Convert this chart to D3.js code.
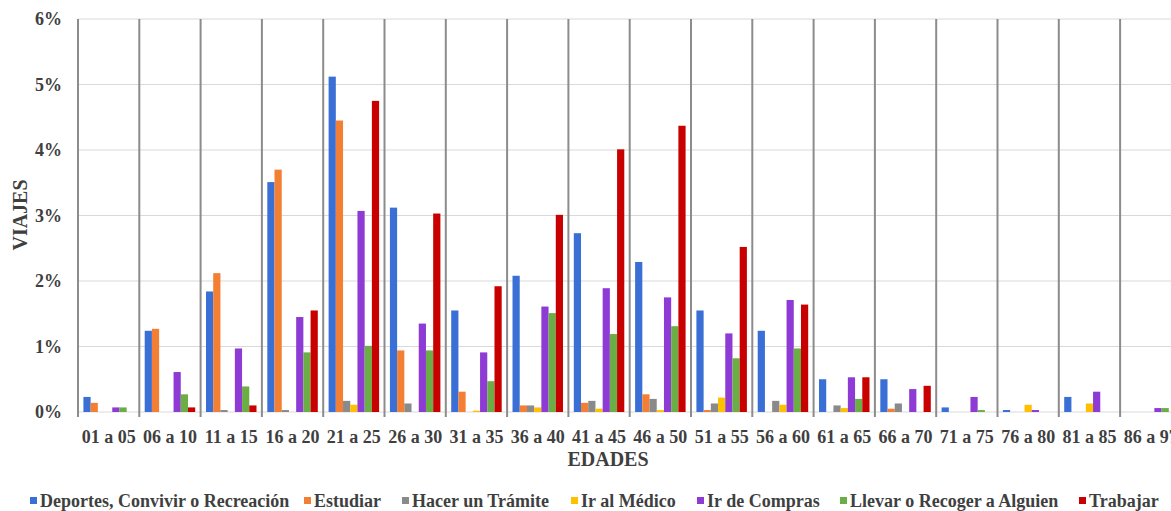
<!DOCTYPE html>
<html><head><meta charset="utf-8">
<script src="https://cdn.jsdelivr.net/npm/d3@7/dist/d3.min.js"></script>
<style>body{margin:0;background:#fff;}svg{display:block;}</style>
</head><body>
<svg id="c" width="1171" height="511"></svg>
<script>
const categories = ["01 a 05","06 a 10","11 a 15","16 a 20","21 a 25","26 a 30","31 a 35","36 a 40","41 a 45","46 a 50","51 a 55","56 a 60","61 a 65","66 a 70","71 a 75","76 a 80","81 a 85","86 a 97"];
const seriesNames = ["Deportes, Convivir o Recreación","Estudiar","Hacer un Trámite","Ir al Médico","Ir de Compras","Llevar o Recoger a Alguien","Trabajar"];
const deportes = [0.23,1.24,1.84,3.51,5.12,3.12,1.55,2.08,2.73,2.29,1.55,1.24,0.50,0.50,0.07,0.03,0.23,0.00];
const estudiar = [0.14,1.27,2.12,3.70,4.45,0.94,0.31,0.10,0.14,0.27,0.03,0.00,0.00,0.05,0.00,0.00,0.00,0.00];
const tramite  = [0.00,0.00,0.03,0.03,0.17,0.13,0.00,0.10,0.17,0.20,0.13,0.17,0.10,0.13,0.00,0.00,0.00,0.00];
const medico   = [0.00,0.00,0.00,0.00,0.11,0.00,0.02,0.07,0.05,0.03,0.22,0.11,0.06,0.00,0.00,0.11,0.13,0.00];
const compras  = [0.07,0.61,0.97,1.45,3.07,1.35,0.91,1.61,1.89,1.75,1.20,1.71,0.53,0.35,0.23,0.03,0.31,0.06];
const llevar   = [0.07,0.27,0.39,0.91,1.01,0.94,0.47,1.51,1.19,1.31,0.82,0.97,0.20,0.00,0.03,0.00,0.00,0.06];
const trabajar = [0.00,0.07,0.10,1.55,4.75,3.03,1.92,3.01,4.01,4.37,2.52,1.64,0.53,0.40,0.00,0.00,0.00,0.00];
const seriesValues = [deportes,estudiar,tramite,medico,compras,llevar,trabajar];
const colors = ["#3A6FD6","#F27F33","#8A8A8A","#FFC000","#8E3BD6","#6AAE45","#C80000"];
const yTicks = [0,1,2,3,4,5,6];

const svg = d3.select("#c");
const font = "'Liberation Serif', 'Times New Roman', serif";
const x0 = 78, step = 61.3;
const x = d3.scaleBand().domain(categories).range([x0, x0 + step*categories.length]).padding(0);
const xi = d3.scaleBand().domain(d3.range(seriesNames.length)).range([0, x.bandwidth()]).paddingInner(0).paddingOuter(0.75);
const y = d3.scaleLinear().domain([0,6]).range([412,19]);

// horizontal grid
svg.append("g").selectAll("line").data(yTicks).join("line")
  .attr("x1", x0).attr("x2", 1171).attr("y1", d=>y(d)).attr("y2", d=>y(d))
  .attr("stroke", "#d9d9d9").attr("stroke-width", 1);

// vertical separators
const seps = categories.map((c,i)=>x(c));
svg.append("g").selectAll("line").data(seps).join("line")
  .attr("x1", d=>d).attr("x2", d=>d).attr("y1", y(6)).attr("y2", y(0)+5)
  .attr("stroke", "#8c8c8c").attr("stroke-width", 2);

// bars
const g = svg.append("g");
categories.forEach((c,ci)=>{
  seriesValues.forEach((vals,si)=>{
    const v = vals[ci];
    if (v <= 0) return;
    g.append("rect")
      .attr("x", x(c) + xi(si))
      .attr("width", xi.bandwidth())
      .attr("y", y(v))
      .attr("height", y(0) - y(v))
      .attr("fill", colors[si]);
  });
});

// y tick labels
svg.append("g").selectAll("text").data(yTicks).join("text")
  .attr("x", 62).attr("y", d=>y(d)).attr("dy","0.35em")
  .attr("text-anchor","end").attr("font-family", font).attr("font-weight","bold")
  .attr("font-size", 18).attr("fill","#3f3f3f").text(d=>d+"%");

// x tick labels
svg.append("g").selectAll("text").data(categories).join("text")
  .attr("x", d=>x(d)+x.bandwidth()/2).attr("y", 443)
  .attr("text-anchor","middle").attr("font-family", font).attr("font-weight","bold")
  .attr("font-size", 18).attr("fill","#3f3f3f").text(d=>d);

// axis titles
svg.append("text").attr("x", 608).attr("y", 466).attr("text-anchor","middle")
  .attr("font-family", font).attr("font-weight","bold").attr("font-size", 20)
  .attr("fill","#3f3f3f").text("EDADES");
svg.append("text").attr("transform","translate(27,215) rotate(-90)").attr("text-anchor","middle")
  .attr("font-family", font).attr("font-weight","bold").attr("font-size", 20)
  .attr("fill","#3f3f3f").text("VIAJES");

// legend
const legendX = [30,304,402,571,697,840,1079];
const lg = svg.append("g");
seriesNames.forEach((n,i)=>{
  lg.append("rect").attr("x", legendX[i]).attr("y", 497).attr("width", 7).attr("height", 7).attr("fill", colors[i]);
  lg.append("text").attr("x", legendX[i]+10).attr("y", 501).attr("dy","0.35em")
    .attr("font-family", font).attr("font-weight","bold").attr("font-size", 18)
    .attr("fill","#3f3f3f").text(n);
});
</script>
</body></html>
